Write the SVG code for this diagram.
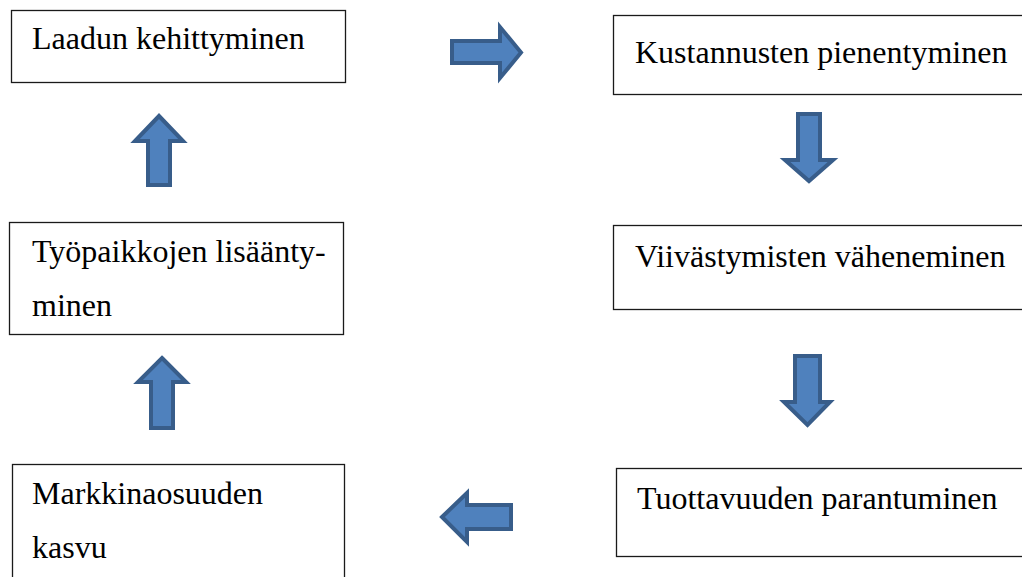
<svg xmlns="http://www.w3.org/2000/svg" width="1022" height="577" viewBox="0 0 1022 577">
<style>
.box{fill:#fff;stroke:#1a1a1a;stroke-width:1.3}
.t{font-family:'Liberation Serif','Times New Roman',Times,'DejaVu Serif',serif;font-size:32px;fill:#000}
.arr{fill:#4F81BD;stroke:#385D8A;stroke-width:4;stroke-linejoin:miter}
</style>
<rect width="1022" height="577" fill="#fff"/>
<g id="n1"><rect class="box" x="11.5" y="10.5" width="334" height="72"/><text class="t" x="32" y="49">Laadun kehittyminen</text></g>
<g id="n2"><rect class="box" x="613.5" y="15.5" width="420" height="79"/><text class="t" x="635" y="63">Kustannusten pienentyminen</text></g>
<g id="n3"><rect class="box" x="613.5" y="225.5" width="420" height="84"/><text class="t" x="635" y="267">Viivästymisten väheneminen</text></g>
<g id="n4"><rect class="box" x="616.5" y="468.5" width="420" height="88"/><text class="t" x="637" y="509">Tuottavuuden parantuminen</text></g>
<g id="n5"><rect class="box" x="12.5" y="464.5" width="332" height="130"/><text class="t" x="32" y="504">Markkinaosuuden</text><text class="t" x="32" y="558">kasvu</text></g>
<g id="n6"><rect class="box" x="9.5" y="222.5" width="334" height="112"/><text class="t" x="32" y="262">Työpaikkojen lisäänty-</text><text class="t" x="32" y="316">minen</text></g>
<g id="connectors">
<path class="arr" d="M452,41 L500,41 L500,27 L521,52.5 L500,78 L500,63 L452,63 Z"/>
<path class="arr" d="M798,114 L820,114 L820,160 L833,160 L809,181 L785,160 L798,160 Z"/>
<path class="arr" d="M795,356 L820,356 L820,402 L830,402 L807.5,425 L784,402 L795,402 Z"/>
<path class="arr" d="M442,517 L467,493 L467,505 L511,505 L511,529 L467,529 L467,542 Z"/>
<path class="arr" d="M162,358 L186,382 L173,382 L173,428 L151,428 L151,382 L138,382 Z"/>
<path class="arr" d="M159,116 L183,141 L170,141 L170,185 L148,185 L148,141 L135,141 Z"/>
</g>
</svg>
